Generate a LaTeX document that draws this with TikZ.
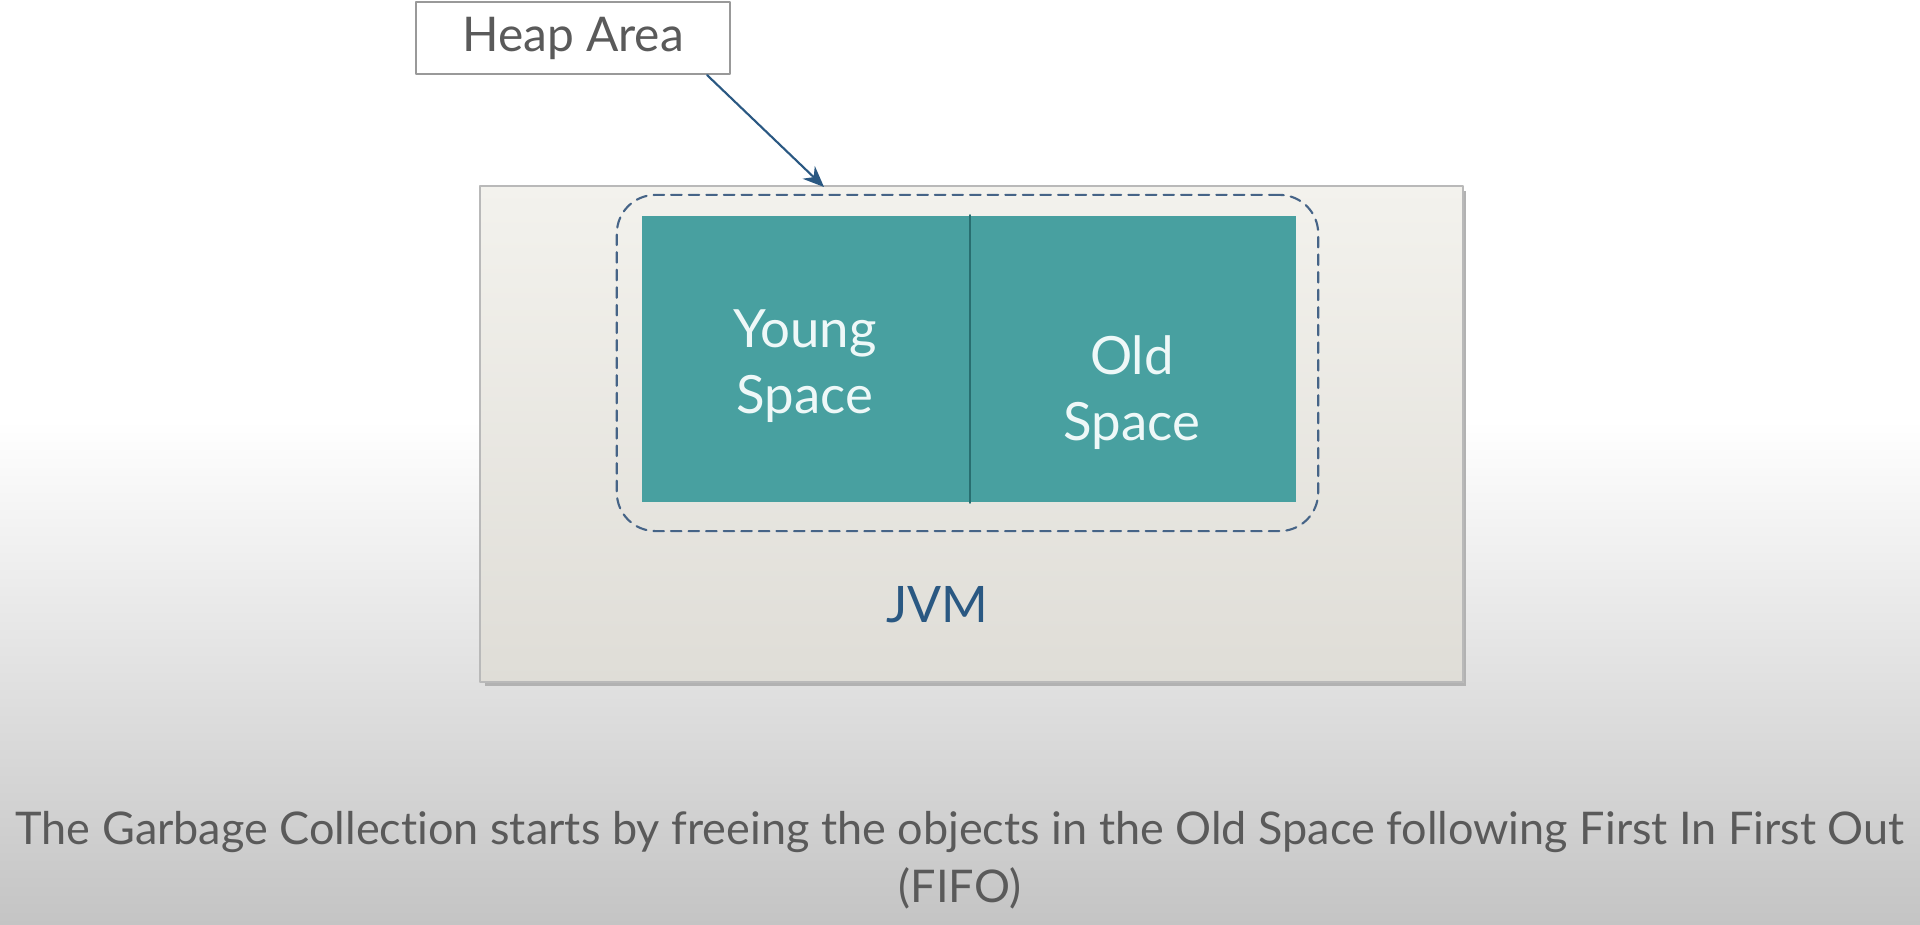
\documentclass[tikz,border=0pt]{standalone}
\usepackage{fontspec}
\setmainfont{Lato}[Ligatures={NoCommon}]
\usetikzlibrary{arrows.meta}
\definecolor{tealfill}{RGB}{72,160,160}
\definecolor{tealline}{RGB}{40,110,112}
\definecolor{jvmblue}{RGB}{42,88,130}
\definecolor{dashblue}{RGB}{70,100,135}
\definecolor{textgray}{RGB}{90,90,90}
\definecolor{bggray}{RGB}{196,196,196}
\tikzset{
  labelbox/.style={draw=gray!80,fill=white,line width=0.6pt,minimum width=3.14cm,minimum height=0.72cm,text=textgray,font=\fontsize{13.6}{16}\selectfont},
  jvmbox/.style={draw=gray!55,line width=0.5pt,top color={rgb,255:red,243;green,242;blue,237},bottom color={rgb,255:red,223;green,221;blue,215},minimum width=9.83cm,minimum height=4.96cm},
  spacebox/.style={fill=tealfill,minimum width=3.27cm,minimum height=2.86cm,inner sep=0pt},
  spacetext/.style={text={rgb,255:red,238;green,248;blue,248},align=center,font=\fontsize{15}{18.8}\selectfont},
  heapline/.style={draw=dashblue,dashed,dash pattern=on 3pt off 2pt,line width=0.6pt,rounded corners=11pt,minimum width=7.01cm,minimum height=3.36cm},
  pointer/.style={-{Stealth[length=6pt,width=5pt]},draw=jvmblue,line width=0.6pt}
}
\begin{document}
\begin{tikzpicture}[x=0.01cm,y=-0.01cm,line cap=round,line join=round]
  \useasboundingbox (0,0) rectangle (1920,925);
  % background
  \fill[white] (0,0) rectangle (1920,925);
  \shade[top color=white,bottom color=bggray] (0,420) rectangle (1920,925);
  % jvm
  \fill[gray!60] (485,191) rectangle (1466,686);
  \node[jvmbox] (jvm) at (971.5,434) {};
  \node[text=jvmblue,font=\fontsize{14.3}{18}\selectfont] (jvmtxt) at (937,605) {JVM};
  % heap area
  \node[heapline] (heaparea) at (967.5,363) {};
  \node[spacebox] (young) at (805.5,359) {};
  \node[spacebox] (old) at (1132.5,359) {};
  \draw[tealline,line width=0.6pt] (young.north east) -- (young.south east);
  \node[spacetext] (youngtxt) at (805,366) {Young\\Space};
  \node[spacetext] (oldtxt) at (1132,393) {Old\\Space};
  % label
  \node[labelbox] (heap) at (573,38) {Heap Area};
  \coordinate (heaptip) at (824,187);
  \draw[pointer] ([xshift=1.34cm]heap.south) -- (heaptip);
  % caption
  \node[text=textgray,align=center,font=\fontsize{12.8}{16.5}\selectfont] (caption) at (960,860)
    {The Garbage Collection starts by freeing the objects in the Old Space following First In First Out\\(FIFO)};
\end{tikzpicture}
\end{document}
